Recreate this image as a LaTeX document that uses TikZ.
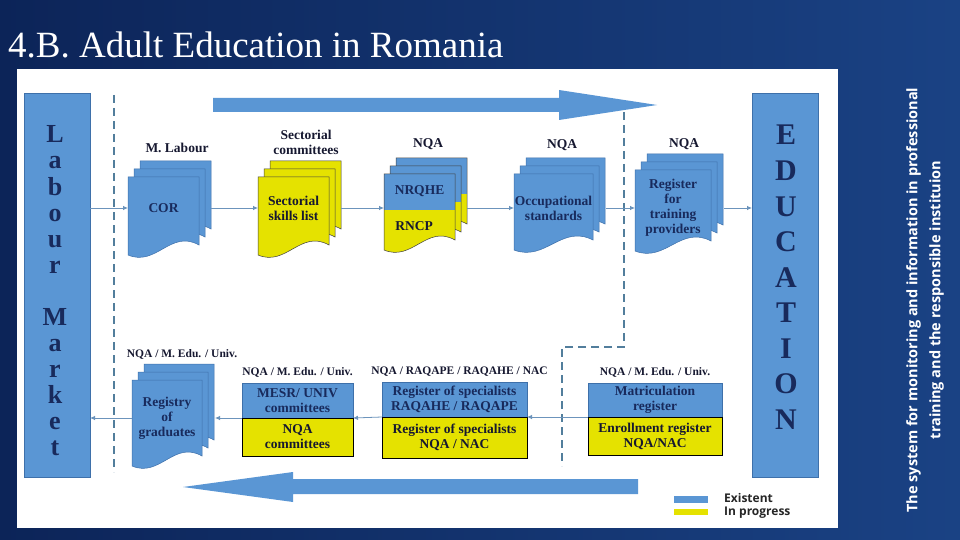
\documentclass[tikz,border=0pt]{standalone}
\usepackage{fontspec}
\setmainfont{Liberation Serif}
\setsansfont{Open Sans}
\usetikzlibrary{arrows.meta,positioning}
\definecolor{bgdark}{RGB}{12,36,88}
\definecolor{bglight}{RGB}{26,66,132}
\definecolor{docblue}{RGB}{90,150,212}
\definecolor{docedge}{RGB}{62,112,170}
\definecolor{docyellow}{RGB}{229,226,0}
\definecolor{navytext}{RGB}{24,42,92}
\definecolor{labeltext}{RGB}{22,24,48}
\definecolor{linkblue}{RGB}{108,148,188}
\definecolor{dashblue}{RGB}{82,126,156}
\tikzset{
  sidebox/.style={fill=docblue,draw=docedge,line width=0.6pt,inner sep=0pt,outer sep=0pt,
                  minimum width=66,minimum height=384},
  sideletter/.style={text=navytext,font=\bfseries\fontsize{26}{26}\selectfont,anchor=base,inner sep=0pt},
  eduletter/.style={text=navytext,font=\bfseries\fontsize{30}{30}\selectfont,anchor=base,inner sep=0pt},
  doctext/.style={text=navytext,font=\bfseries\fontsize{13.5}{15}\selectfont,align=center,
                  inner sep=0pt,outer sep=0pt},
  toplabel/.style={text=labeltext,font=\bfseries\fontsize{13.5}{15}\selectfont,align=center,inner sep=1pt},
  boxlabel/.style={text=labeltext,font=\bfseries\fontsize{11.5}{13}\selectfont,inner sep=1pt},
  bluepart/.style={fill=docblue,draw=docedge,line width=0.5pt,inner sep=0pt,outer sep=0pt,align=center,
                   text=navytext,font=\bfseries\fontsize{13.5}{15}\selectfont},
  yellowpart/.style={fill=docyellow,draw=black,line width=0.6pt,inner sep=0pt,outer sep=0pt,align=center,
                     text=labeltext,font=\bfseries\fontsize{13.5}{15}\selectfont},
  bluedoc/.style={fill=docblue,draw=docedge,line width=0.5pt},
  yellowdoc/.style={fill=docyellow,draw=black!75,line width=0.5pt},
  link/.style={linkblue,line width=0.8pt,-{Latex[length=5pt,width=4.5pt]}},
  divider/.style={dashblue,line width=2pt,dash pattern=on 8pt off 5pt},
  legend/.style={font=\sffamily\bfseries\fontsize{12}{12}\selectfont,text=black!85,anchor=west,inner sep=0pt}
}
% one page of a document stack: left, top, width, height, style
\newcommand{\docpage}[5]{%
  \path[#5] (#1,#2) -- ({#1+#3},#2) -- ({#1+#3},{#2+#4-12})
    .. controls ({#1+0.6*#3},{#2+#4-28}) and ({#1+0.4*#3},{#2+#4+10}) .. (#1,{#2+#4-2}) -- cycle;}
% three pages, back to front
\newcommand{\docstack}[5]{%
  \docpage{#1+12}{#2-16}{#3}{#4}{#5}
  \docpage{#1+6}{#2-8}{#3}{#4}{#5}
  \docpage{#1}{#2}{#3}{#4}{#5}}
% page that is blue on top and yellow below: left, top, width, height, split depth
\newcommand{\splitpage}[5]{%
  \begin{scope}
    \clip (#1,#2) -- ({#1+#3},#2) -- ({#1+#3},{#2+#4-12})
      .. controls ({#1+0.6*#3},{#2+#4-28}) and ({#1+0.4*#3},{#2+#4+10}) .. (#1,{#2+#4-2}) -- cycle;
    \fill[docyellow] (#1,#2) rectangle ({#1+#3},{#2+#4+10});
    \fill[docblue] (#1,#2) rectangle ({#1+#3},{#2+#5});
  \end{scope}
  \docpage{#1}{#2}{#3}{#4}{draw=black!75,line width=0.5pt}}

\begin{document}
\begin{tikzpicture}[x=1pt,y=-1pt]
  \useasboundingbox (0,0) rectangle (960,540);
  % Slide background and white panel.
  \shade[left color=bgdark,right color=bglight] (0,0) rectangle (960,540);
  \fill[white] (17,69) rectangle (838,528);
  \node[anchor=base west,text=white,font=\fontsize{37}{37}\selectfont,inner sep=0pt] (title) at (8,58)
      {4.B. Adult Education in Romania};
  \node[rotate=90,text=white,font=\sffamily\bfseries\fontsize{14.5}{23}\selectfont,align=center] (sidenote)
      at (925,300) {The system for monitoring and information in professional\\training and the responsible instituion};

  % Labour market and education columns.
  \node[sidebox] (labour) at (57,285) {};
  \node[sidebox] (edu) at (785,285) {};
  \foreach \ch/\i in {L/0,a/1,b/2,o/3,u/4,r/5,M/7,a/8,r/9,k/10,e/11,t/12}
    \node[sideletter] (lm\i) at (55,{143+26*\i}) {\ch};
  \foreach \ch/\i in {E/0,D/1,U/2,C/3,A/4,T/5,I/6,O/7,N/8}
    \node[eduletter] (ed\i) at (786,{145+35.5*\i}) {\ch};

  % Dashed boundaries and block arrows.
  \draw[divider] (114,95) -- (114,472);
  \draw[divider] (624,112) -- (624,347) -- (562,347) -- (562,466);
  \fill[docblue] (213,98) -- (559,98) -- (559,90) -- (657,105) -- (559,120) -- (559,112) -- (213,112) -- cycle;
  \fill[docblue] (638,479) -- (293,479) -- (293,472) -- (183,487) -- (293,502) -- (293,494) -- (638,494) -- cycle;

  % Upper chain of registers.
  \docstack{128}{177}{71}{80}{bluedoc}
  \node[doctext,minimum width=71] (cor) at (163.5,208) {COR};
  \node[toplabel] (corlab) at (177,148) {M. Labour};
  \docstack{258}{177}{71}{80}{yellowdoc}
  \node[doctext,minimum width=71,text=labeltext] (skills) at (293.5,208) {Sectorial\\skills list};
  \node[toplabel] (skillslab) at (306,142) {Sectorial\\committees};
  \splitpage{396}{158}{71}{78}{36}
  \splitpage{390}{166}{71}{78}{36}
  \splitpage{384}{174}{71}{78}{36}
  \node[doctext,minimum width=71] (nrqhe) at (419.5,191) {NRQHE};
  \node[doctext,text=labeltext] (rncp) at (414,226) {RNCP};
  \node[toplabel] (nrqhelab) at (428,144) {NQA};
  \docstack{514}{174}{79}{78}{bluedoc}
  \node[doctext,minimum width=79] (occ) at (553.5,208) {Occupational\\standards};
  \node[toplabel] (occlab) at (562,145) {NQA};
  \docstack{635}{170}{76}{83}{bluedoc}
  \node[doctext,minimum width=76] (reg) at (673,208) {Register\\for\\training\\providers};
  \node[toplabel] (reglab) at (684,144) {NQA};

  \draw[link] (cor.west -| labour.east) -- (cor.west);
  \draw[link] ([xshift=12pt]cor.east) -- (skills.west);
  \draw[link] ([xshift=12pt]skills.east) -- (skills.east -| nrqhe.west);
  \draw[link] (occ.west -| nrqhe.east) ++(12,0) -- (occ.west);
  \draw[link] ([xshift=13pt]occ.east) -- (reg.west);
  \draw[link] ([xshift=13pt]reg.east) -- (reg.east -| edu.west);

  % Lower chain of registers.
  \docstack{132}{380}{70}{88}{bluedoc}
  \node[doctext,minimum width=70] (grad) at (167,418) {Registry\\of\\graduates};
  \node[boxlabel] (gradlab) at (182,354) {NQA / M. Edu. / Univ.};
  \node[bluepart,minimum width=111,minimum height=35] (mesrtop) at (297.5,400.5) {MESR/ UNIV\\committees};
  \node[yellowpart,minimum width=111,minimum height=38,below=0pt of mesrtop] (mesrbot) {NQA\\committees};
  \node[boxlabel,above=4pt of mesrtop] (mesrlab) {NQA / M. Edu. / Univ.};
  \node[bluepart,minimum width=145,minimum height=35] (spectop) at (454.5,399.5)
      {Register of specialists\\RAQAHE / RAQAPE};
  \node[yellowpart,minimum width=145,minimum height=41,below=0pt of spectop] (specbot)
      {Register of specialists\\NQA / NAC};
  \node[boxlabel,above=4pt of spectop,xshift=5pt] (speclab) {NQA / RAQAPE / RAQAHE / NAC};
  \node[bluepart,minimum width=134,minimum height=34] (matrtop) at (655,400) {Matriculation\\register};
  \node[yellowpart,minimum width=134,minimum height=38,below=0pt of matrtop] (matrbot)
      {Enrollment register\\NQA/NAC};
  \node[boxlabel,above=4pt of matrtop] (matrlab) {NQA / M. Edu. / Univ.};

  \draw[link] (matrtop.south west) -- (spectop.south east);
  \draw[link] (spectop.south west) -- (mesrtop.south east);
  \draw[link] (mesrtop.south west) -- ([xshift=13pt]grad.east);
  \draw[link] (grad.west) -- (grad.west -| labour.east);

  % Legend.
  \fill[docblue] (674,496) rectangle (708,503);
  \fill[docyellow] (674,509) rectangle (708,515);
  \node[legend] (legexist) at (724,498) {Existent};
  \node[legend] (legprog) at (724,513) {In progress};
\end{tikzpicture}
\end{document}
